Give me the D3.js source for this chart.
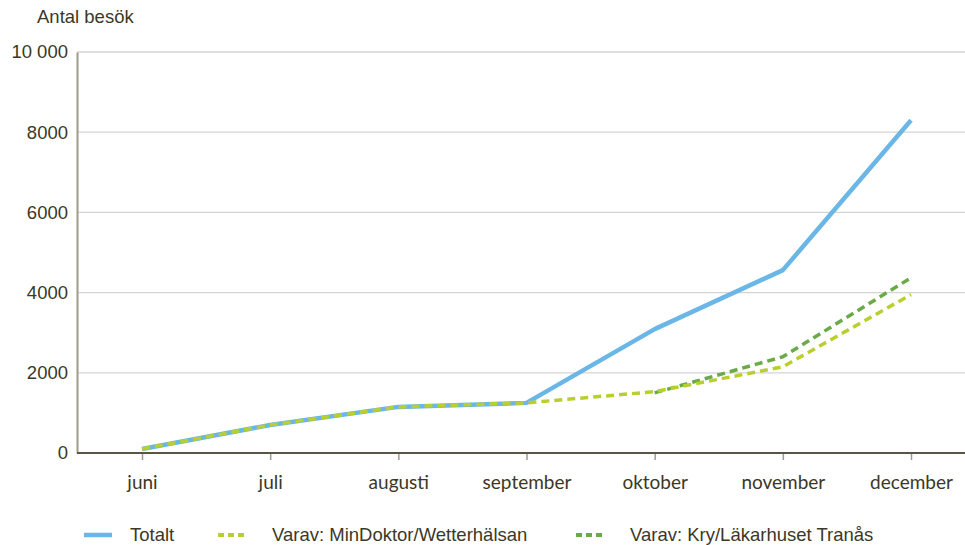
<!DOCTYPE html>
<html>
<head>
<meta charset="utf-8">
<script src="https://cdn.jsdelivr.net/npm/d3@7"></script>
<style>
  body { margin: 0; background: #fff; }
  svg { display: block; }
</style>
</head>
<body>
<svg id="chart" width="965" height="545"></svg>
<script>
// Monthly visits
const months = ["juni", "juli", "augusti", "september", "oktober", "november", "december"];
const totalt = [100, 700, 1150, 1250, 3090, 4560, 8300];
const minDoktor = [100, 700, 1150, 1250, 1530, 2150, 3950];
const kry = [null, null, null, null, 1500, 2400, 4370];
const yTicks = [0, 2000, 4000, 6000, 8000, 10000];
const yTickLabels = ["0", "2000", "4000", "6000", "8000", "10 000"];
const seriesNames = ["Totalt", "Varav: MinDoktor/Wetterhälsan", "Varav: Kry/Läkarhuset Tranås"];

const svg = d3.select("#chart");
const textColor = "#3b3826";

const x = d3.scalePoint().domain(months).range([142, 911]);
const y = d3.scaleLinear().domain([0, 10000]).range([453, 52]);

// gridlines
svg.append("g").selectAll("line")
  .data(yTicks.filter(d => d > 0))
  .join("line")
  .attr("x1", 77).attr("x2", 965)
  .attr("y1", d => y(d)).attr("y2", d => y(d))
  .attr("stroke", "#d4d4d4").attr("stroke-width", 1.3);

// y axis
const yAxis = svg.append("g")
  .attr("transform", "translate(77,0)")
  .call(d3.axisLeft(y).tickValues(yTicks).tickFormat((d, i) => yTickLabels[i]).tickSize(0).tickPadding(9));
yAxis.select(".domain").attr("stroke", "#a09a8c").attr("stroke-width", 2);
yAxis.selectAll("text")
  .attr("font-family", "Liberation Sans, Arial, sans-serif")
  .attr("font-size", 18.5).attr("fill", textColor);

// x axis
const xAxis = svg.append("g")
  .attr("transform", "translate(0,453)")
  .call(d3.axisBottom(x).tickSize(7).tickPadding(16));
xAxis.select(".domain").remove();
xAxis.append("line").attr("x1", 77).attr("x2", 965).attr("y1", 0).attr("y2", 0)
  .attr("stroke", "#5a5444").attr("stroke-width", 2);
xAxis.selectAll(".tick line").attr("stroke", "#a09a8c").attr("stroke-width", 1.5);
xAxis.selectAll("text")
  .attr("font-family", "Lato, sans-serif")
  .attr("font-size", 19).attr("fill", textColor);

// axis title
svg.append("text").attr("x", 37).attr("y", 23)
  .attr("font-family", "Liberation Sans, Arial, sans-serif")
  .attr("font-size", 18.5).attr("fill", textColor)
  .text("Antal besök");

const line = d3.line()
  .defined(d => d.v != null)
  .x(d => x(d.m)).y(d => y(d.v));
const toPts = arr => arr.map((v, i) => ({ m: months[i], v }));

const series = [
  { name: seriesNames[0], values: totalt, color: "#6ab6e6", width: 4.5, dash: null },
  { name: seriesNames[2], values: kry, color: "#6aaa48", width: 3.5, dash: "8,5" },
  { name: seriesNames[1], values: minDoktor, color: "#b9cf2f", width: 3.5, dash: "8,5" }
];

svg.append("g").selectAll("path")
  .data(series)
  .join("path")
  .attr("d", d => line(toPts(d.values)))
  .attr("fill", "none")
  .attr("stroke", d => d.color)
  .attr("stroke-width", d => d.width)
  .attr("stroke-dasharray", d => d.dash)
  .attr("stroke-linejoin", "round");

// legend
const legendItems = [
  { name: seriesNames[0], color: "#6ab6e6", dash: null, width: 4.5, x: 84 },
  { name: seriesNames[1], color: "#b9cf2f", dash: "6,4", width: 4, x: 218 },
  { name: seriesNames[2], color: "#6aaa48", dash: "6,4", width: 4, x: 576 }
];
const lg = svg.append("g").selectAll("g").data(legendItems).join("g")
  .attr("transform", d => `translate(${d.x},535)`);
lg.append("line").attr("x1", 0).attr("x2", 28).attr("y1", 0).attr("y2", 0)
  .attr("stroke", d => d.color).attr("stroke-width", d => d.width)
  .attr("stroke-dasharray", d => d.dash);
lg.append("text").attr("x", (d, i) => i === 0 ? 46 : 54).attr("y", 6)
  .attr("font-family", "Liberation Sans, Arial, sans-serif")
  .attr("font-size", 18.5).attr("fill", textColor)
  .text(d => d.name);
</script>
</body>
</html>
